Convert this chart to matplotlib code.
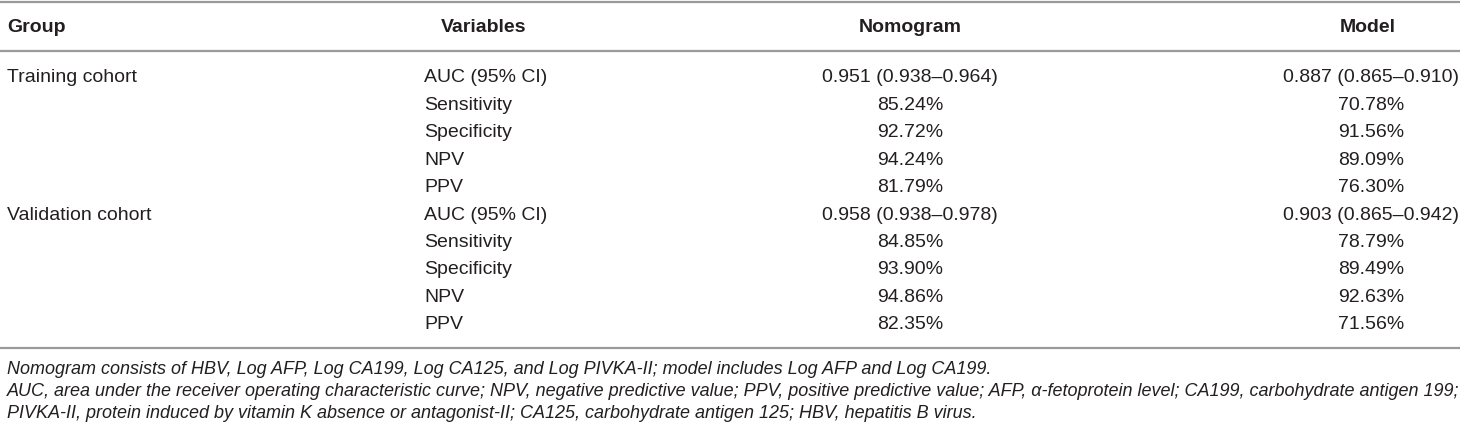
import matplotlib
matplotlib.use('Agg')
import matplotlib.pyplot as plt

plt.rcParams['font.family'] = ['Liberation Sans', 'DejaVu Sans']

# table contents
headers = ['Group', 'Variables', 'Nomogram', 'Model']
groups = ['Training cohort', 'Validation cohort']
variables = ['AUC (95% CI)', 'Sensitivity', 'Specificity', 'NPV', 'PPV']
nomogram = ['0.951 (0.938–0.964)', '85.24%', '92.72%', '94.24%', '81.79%',
            '0.958 (0.938–0.978)', '84.85%', '93.90%', '94.86%', '82.35%']
model = ['0.887 (0.865–0.910)', '70.78%', '91.56%', '89.09%', '76.30%',
         '0.903 (0.865–0.942)', '78.79%', '89.49%', '92.63%', '71.56%']
notes = [
    'Nomogram consists of HBV, Log AFP, Log CA199, Log CA125, and Log PIVKA-II; model includes Log AFP and Log CA199.',
    'AUC, area under the receiver operating characteristic curve; NPV, negative predictive value; PPV, positive predictive value; AFP, α-fetoprotein level; CA199, carbohydrate antigen 199;',
    'PIVKA-II, protein induced by vitamin K absence or antagonist-II; CA125, carbohydrate antigen 125; HBV, hepatitis B virus.',
]

W, H = 1460, 430
fig = plt.figure(figsize=(W / 100, H / 100), dpi=100)
ax = fig.add_axes([0, 0, 1, 1])
ax.set_xlim(0, W)
ax.set_ylim(H, 0)
ax.axis('off')

txt = '#231f20'
line_c = '#9a9a9a'
fs = 14

# horizontal rules
for y in [1.5, 51, 348]:
    ax.plot([0, W], [y, y], color=line_c, lw=1.6, solid_capstyle='butt')

# header
hy = 27
ax.text(7, hy, headers[0], ha='left', va='center', fontsize=fs, fontweight='bold', color=txt)
ax.text(484, hy, headers[1], ha='center', va='center', fontsize=fs, fontweight='bold', color=txt)
ax.text(910, hy, headers[2], ha='center', va='center', fontsize=fs, fontweight='bold', color=txt)
ax.text(1368, hy, headers[3], ha='center', va='center', fontsize=fs, fontweight='bold', color=txt)

# body
y0, dy = 78, 27.4
for i in range(len(nomogram)):
    y = y0 + i * dy
    if i % len(variables) == 0:
        ax.text(7, y, groups[i // len(variables)], ha='left', va='center', fontsize=fs, color=txt)
    ax.text(424, y, variables[i % len(variables)], ha='left', va='center', fontsize=fs, color=txt)
    ax.text(910, y, nomogram[i], ha='center', va='center', fontsize=fs, color=txt)
    ax.text(1371, y, model[i], ha='center', va='center', fontsize=fs, color=txt)

# footnotes
for j, note in enumerate(notes):
    ax.text(7, 369 + j * 22.5, note, ha='left', va='center', fontsize=13,
            style='italic', color=txt)

fig.savefig('out.png', dpi=100)
